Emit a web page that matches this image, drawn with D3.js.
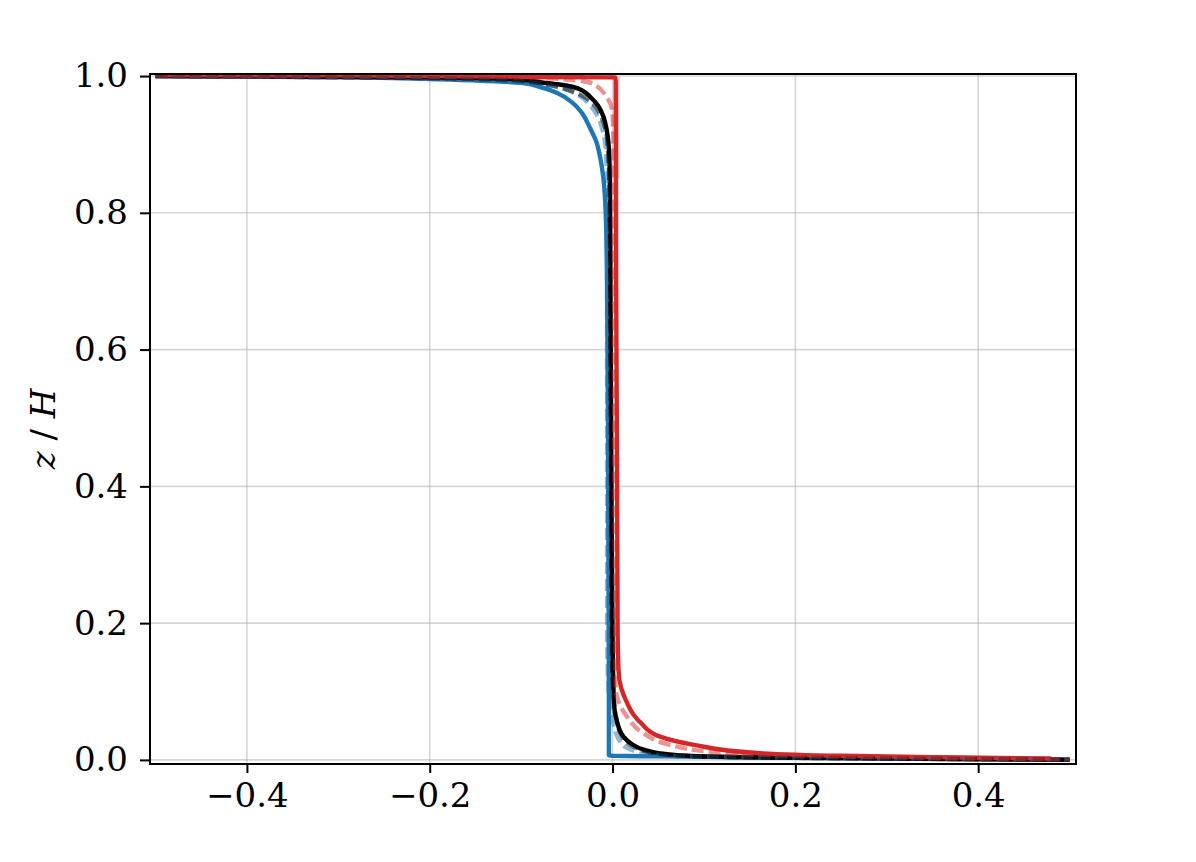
<!DOCTYPE html>
<html>
<head>
<meta charset="utf-8">
<script src="https://cdn.jsdelivr.net/npm/d3@7"></script>
<style>
  html, body { margin: 0; padding: 0; background: #fff; }
  svg { display: block; }
</style>
</head>
<body>
<svg id="chart" width="1196" height="862"></svg>
<script>
// ---- Data ----
const xTicks = [-0.4, -0.2, 0.0, 0.2, 0.4];
const yTicks = [0.0, 0.2, 0.4, 0.6, 0.8, 1.0];
const xTickLabels = ["\u22120.4", "\u22120.2", "0.0", "0.2", "0.4"];
const yTickLabels = ["0.0", "0.2", "0.4", "0.6", "0.8", "1.0"];

// solid blue profile
const blueX = [-0.5, -0.4, -0.3, -0.2, -0.15, -0.1, -0.079, -0.06, -0.043, -0.033, -0.025, -0.018, -0.013, -0.0098, -0.0075, -0.006, -0.005, -0.0045, -0.004, -0.004, 0.0, 0.05, 0.1, 0.2, 0.3, 0.4, 0.5];
const blueZ = [1.0, 0.9993, 0.998, 0.9956, 0.9935, 0.990, 0.984, 0.975, 0.960, 0.945, 0.925, 0.905, 0.877, 0.848, 0.80, 0.70, 0.50, 0.30, 0.10, 0.0065, 0.006, 0.0052, 0.0045, 0.0035, 0.0027, 0.0018, 0.0008];

// solid black profile
const blackX = [-0.5, -0.4, -0.3, -0.2, -0.1, -0.079, -0.06, -0.043, -0.032, -0.024, -0.016, -0.0098, -0.0065, -0.0044, -0.003, -0.002, -0.001, 0.0, 0.0015, 0.005, 0.012, 0.02, 0.034, 0.05, 0.071, 0.1, 0.2, 0.3, 0.4, 0.5];
const blackZ = [1.0, 0.9995, 0.999, 0.998, 0.995, 0.991, 0.988, 0.984, 0.978, 0.969, 0.957, 0.940, 0.922, 0.902, 0.85, 0.6, 0.35, 0.18, 0.083, 0.055, 0.034, 0.024, 0.015, 0.010, 0.007, 0.005, 0.003, 0.002, 0.001, 0.0];

// solid red profile
const redX = [-0.49, -0.3, -0.1, 0.0, 0.003, 0.0035, 0.004, 0.005, 0.0055, 0.0066, 0.0095, 0.016, 0.023, 0.031, 0.052, 0.089, 0.158, 0.25, 0.35, 0.42, 0.48];
const redZ = [1.0015, 1.001, 0.999, 0.998, 0.998, 0.99, 0.7, 0.4, 0.2, 0.13, 0.105, 0.083, 0.066, 0.054, 0.034, 0.022, 0.010, 0.006, 0.004, 0.003, 0.002];

// dashed light blue profile
const blueDashX = [-0.5, -0.2, -0.1, -0.06, -0.04, -0.025, -0.016, -0.01, -0.007, -0.006, -0.006, -0.005, -0.003, 0.0, 0.009, 0.027, 0.052, 0.1, 0.2, 0.3, 0.4, 0.5];
const blueDashZ = [1.0, 0.997, 0.992, 0.984, 0.974, 0.958, 0.94, 0.915, 0.88, 0.8, 0.2, 0.12, 0.08, 0.058, 0.025, 0.012, 0.007, 0.0045, 0.003, 0.002, 0.0012, 0.0005];

// dashed grey profile
const greyDashX = [-0.5, -0.2, -0.1, -0.043, -0.016, -0.0055, -0.003, -0.002, -0.001, 0.0, 0.003, 0.01, 0.025, 0.05, 0.1, 0.2, 0.3, 0.4, 0.5];
const greyDashZ = [1.0, 0.997, 0.993, 0.977, 0.95, 0.902, 0.8, 0.5, 0.2, 0.12, 0.07, 0.035, 0.018, 0.009, 0.005, 0.003, 0.002, 0.001, 0.0003];

// dashed light red profile
const redDashX = [-0.5, -0.2, -0.1, -0.05, -0.024, -0.0077, 0.0, 0.001, 0.0015, 0.002, 0.003, 0.0033, 0.016, 0.034, 0.063, 0.107, 0.2, 0.3, 0.4, 0.5];
const redDashZ = [1.0, 0.999, 0.998, 0.995, 0.99, 0.972, 0.945, 0.9, 0.7, 0.4, 0.2, 0.107, 0.063, 0.039, 0.022, 0.012, 0.006, 0.004, 0.002, 0.0008];

// thin grey reference segment near top
const refX = [0.0068, 0.0068];
const refZ = [0.999, 0.85];

// ---- Layout ----
const svg = d3.select("#chart");
const L = 150, R = 1076, T = 74, B = 764;
const x = d3.scaleLinear().domain([-0.506, 0.507]).range([L, R]);
const y = d3.scaleLinear().domain([-0.006, 1.003]).range([B, T]);
const font = "'DejaVu Serif', serif";
const fs = 34;

// grid
const grid = svg.append("g");
xTicks.forEach(t => grid.append("line")
  .attr("x1", x(t)).attr("x2", x(t)).attr("y1", T).attr("y2", B)
  .attr("stroke", "#b0b0b0").attr("stroke-opacity", 0.5).attr("stroke-width", 1.6));
yTicks.forEach(t => grid.append("line")
  .attr("y1", y(t)).attr("y2", y(t)).attr("x1", L).attr("x2", R)
  .attr("stroke", "#b0b0b0").attr("stroke-opacity", 0.5).attr("stroke-width", 1.6));

svg.append("clipPath").attr("id", "clip").append("rect")
  .attr("x", L).attr("y", T).attr("width", R - L).attr("height", B - T);

const line = d3.line().x(d => x(d[0])).y(d => y(d[1])).curve(d3.curveMonotoneY);
const zip = (a, b) => a.map((v, i) => [v, b[i]]);
const plot = svg.append("g").attr("clip-path", "url(#clip)");

function draw(xs, zs, color, opacity, width, dash) {
  plot.append("path").attr("d", line(zip(xs, zs)))
    .attr("fill", "none").attr("stroke", color).attr("stroke-opacity", opacity)
    .attr("stroke-width", width).attr("stroke-dasharray", dash || null)
    .attr("stroke-linejoin", "round");
}

draw(refX, refZ, "#b0b0b0", 0.7, 1.6);
draw(blueX, blueZ, "#1f77b4", 1, 4.4);
draw(blackX, blackZ, "#000000", 1, 4.4);
draw(redX, redZ, "#d62728", 1, 4.4);
draw(blueDashX, blueDashZ, "#1f77b4", 0.5, 4.4, "12,5");
draw(greyDashX, greyDashZ, "#000000", 0.5, 4.4, "12,5");
draw(redDashX, redDashZ, "#d62728", 0.5, 4.4, "12,5");

// axes frame
svg.append("rect").attr("x", L).attr("y", T).attr("width", R - L).attr("height", B - T)
  .attr("fill", "none").attr("stroke", "#000").attr("stroke-width", 2);

// x axis
const xAxis = d3.axisBottom(x).tickValues(xTicks).tickSize(9).tickPadding(10)
  .tickFormat((d, i) => xTickLabels[i]);
const gx = svg.append("g").attr("transform", `translate(0,${B})`).call(xAxis);
gx.select(".domain").remove();
gx.selectAll(".tick line").attr("stroke-width", 2);
gx.selectAll(".tick text").attr("font-family", font).attr("font-size", fs).attr("fill", "#000");

// y axis
const yAxis = d3.axisLeft(y).tickValues(yTicks).tickSize(10).tickPadding(12)
  .tickFormat((d, i) => yTickLabels[i]);
const gy = svg.append("g").attr("transform", `translate(${L},0)`).call(yAxis);
gy.select(".domain").remove();
gy.selectAll(".tick line").attr("stroke-width", 2);
gy.selectAll(".tick text").attr("font-family", font).attr("font-size", fs).attr("fill", "#000");

// y label
const yl = svg.append("text")
  .attr("transform", `translate(55,${(T + B) / 2 + 10}) rotate(-90)`)
  .attr("text-anchor", "middle").attr("font-family", font).attr("font-size", fs);
yl.append("tspan").attr("font-style", "italic").text("z");
yl.append("tspan").text(" / ");
yl.append("tspan").attr("font-style", "italic").text("H");
</script>
</body>
</html>
